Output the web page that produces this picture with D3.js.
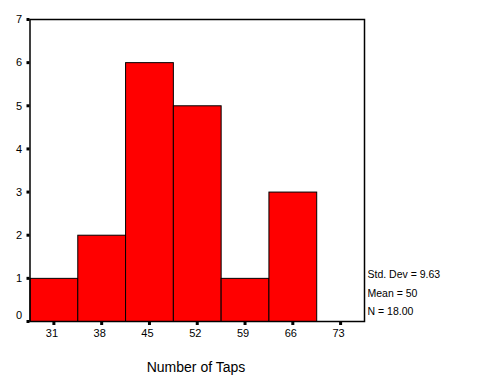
<!DOCTYPE html>
<html><head><meta charset="utf-8">
<script src="https://cdn.jsdelivr.net/npm/d3@7"></script>
<style>body{margin:0;background:#fff}svg{display:block}text{font-family:Arial,"Liberation Sans",sans-serif;fill:#000}</style>
</head><body><svg id="c" width="480" height="384"></svg>
<script>
const binCenters = [31, 38, 45, 52, 59, 66, 73];
const counts = [1, 2, 6, 5, 1, 3, 0];
const yTicks = [0, 1, 2, 3, 4, 5, 6, 7];
const stats = ["Std. Dev = 9.63", "Mean = 50", "N = 18.00"];
const xTitle = "Number of Taps";
const binWidth = 7;

const svg = d3.select("#c");
const L = 30, R = 364.5, T = 19.5, B = 321.5;
const x = d3.scaleLinear().domain([27.5, 76.5]).range([L, R]);
const y = d3.scaleLinear().domain([0, 7]).range([B, T]);

// bars
svg.selectAll("rect.bar").data(binCenters.map((c,i)=>({c, n:counts[i]})).filter(d=>d.n>0))
  .enter().append("rect").attr("class","bar")
  .attr("x", d=>x(d.c-binWidth/2)).attr("width", d=>x(d.c+binWidth/2)-x(d.c-binWidth/2))
  .attr("y", d=>y(d.n)).attr("height", d=>y(0)-y(d.n))
  .attr("fill","#ff0000").attr("stroke","#000").attr("stroke-width",1);

// frame
svg.append("rect").attr("x",L).attr("y",T).attr("width",R-L).attr("height",B-T)
  .attr("fill","none").attr("stroke","#000").attr("stroke-width",1.5);

// y ticks
svg.selectAll("rect.yt").data(yTicks).enter().append("rect")
  .attr("x", L-3.5).attr("y", d=>y(d)-1.5).attr("width",3).attr("height",3).attr("fill","#000");
svg.selectAll("text.yl").data(yTicks).enter().append("text")
  .attr("x", 22).attr("y", d=>y(d) + (d===0 ? -6 : 0)).attr("dy","0.35em")
  .attr("text-anchor","end").attr("font-size","11px").text(d=>d);

// x ticks
svg.selectAll("rect.xt").data(binCenters).enter().append("rect")
  .attr("x", d=>x(d)-1.5).attr("y", B+0.5).attr("width",3).attr("height",3).attr("fill","#000");
svg.selectAll("text.xl").data(binCenters).enter().append("text")
  .attr("x", d=>x(d)-2).attr("y", 336.5)
  .attr("text-anchor","middle").attr("font-size","11px").text(d=>d);

// x title
svg.append("text").attr("x",196).attr("y",371.5).attr("text-anchor","middle")
  .attr("font-size","14px").text(xTitle);

// stats
svg.selectAll("text.st").data(stats).enter().append("text")
  .attr("x",367.5).attr("y",(d,i)=>278.3+i*18.4).attr("font-size","10.5px").text(d=>d);
</script></body></html>
